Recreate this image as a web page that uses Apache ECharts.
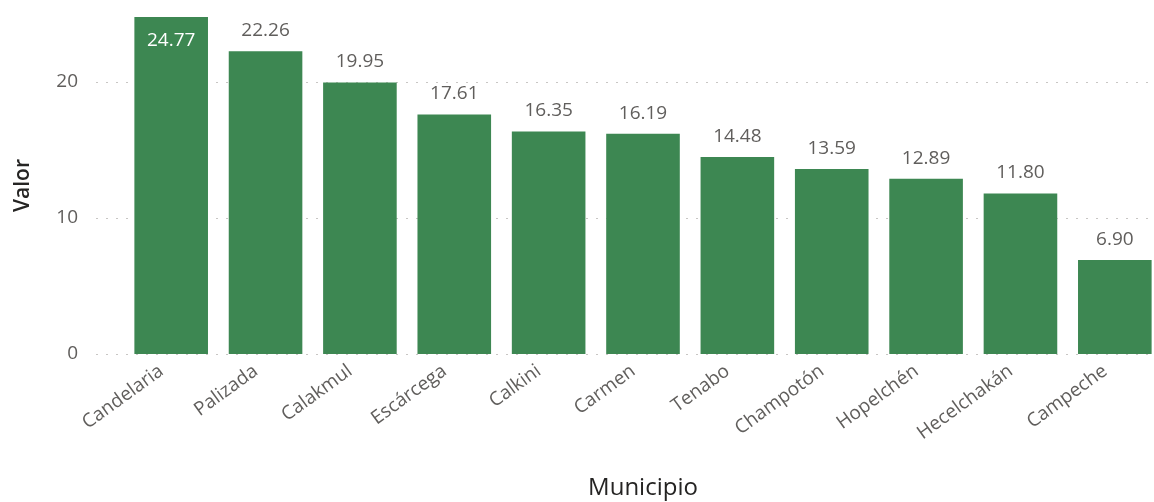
<!DOCTYPE html>
<html><head><meta charset="utf-8">
<script src="https://cdn.jsdelivr.net/npm/echarts@6/dist/echarts.min.js"></script>
<style>html,body{margin:0;padding:0;background:#fff}#c{width:1154px;height:502px}</style>
</head><body><div id="c"></div>
<script>
const categories = ["Candelaria","Palizada","Calakmul","Escárcega","Calkini","Carmen","Tenabo","Champotón","Hopelchén","Hecelchakán","Campeche"];
const values = [24.77,22.26,19.95,17.61,16.35,16.19,14.48,13.59,12.89,11.80,6.90];
const yTicks = [0,10,20];
const yMax = 24.77;
const FONT = "'Segoe UI','Open Sans',sans-serif";
const chart = echarts.init(document.getElementById('c'));
chart.setOption({
  animation:false,
  grid:[
    {left:96, width:1066, top:17, bottom:148, containLabel:false, outerBoundsMode:'none'},
    {left:124, width:1038, top:17, bottom:148, containLabel:false, outerBoundsMode:'none'}
  ],
  xAxis:[
    {gridIndex:0, type:'value', min:0, max:1, show:true,
     axisLine:{show:false}, axisTick:{show:false}, axisLabel:{show:false}, splitLine:{show:false}},
    {gridIndex:1, type:'category', data:categories,
     axisLine:{show:false}, axisTick:{show:false},
     axisLabel:{rotate:36, interval:0, fontFamily:FONT, fontSize:19, color:'#605e5c', margin:8,
       padding:[0,12,0,0]},
     name:'Municipio', nameLocation:'middle', nameGap:122,
     nameTextStyle:{fontFamily:FONT, fontSize:24, color:'#252423'}}
  ],
  yAxis:[
    {gridIndex:0, type:'value', min:0, max:yMax, interval:10,
     axisLine:{show:false}, axisTick:{show:false},
     axisLabel:{fontFamily:FONT, fontSize:19, color:'#605e5c', margin:18,
       formatter:v=>yTicks.includes(v)?String(v):''},
     splitLine:{show:true, showMaxLine:false, lineStyle:{color:'#c8c6c4', type:[2,8], width:1}},
     name:'Valor', nameLocation:'middle', nameGap:62, nameRotate:90,
     nameTextStyle:{fontFamily:FONT, fontSize:21, color:'#252423', fontWeight:600}},
    {gridIndex:1, type:'value', min:0, max:yMax, interval:10, show:false}
  ],
  series:[{
    type:'bar', xAxisIndex:1, yAxisIndex:1,
    data: values.map((v,i)=> i===0 ? {value:v, label:{position:'insideTop', distance:14, color:'#ffffff'}} : v),
    barCategoryGap:'22%',
    itemStyle:{color:'#3d8752'},
    label:{show:true, position:'top', distance:11, fontFamily:FONT, fontSize:19, color:'#605e5c',
      formatter:p=>p.value.toFixed(2)}
  }]
});
</script></body></html>
